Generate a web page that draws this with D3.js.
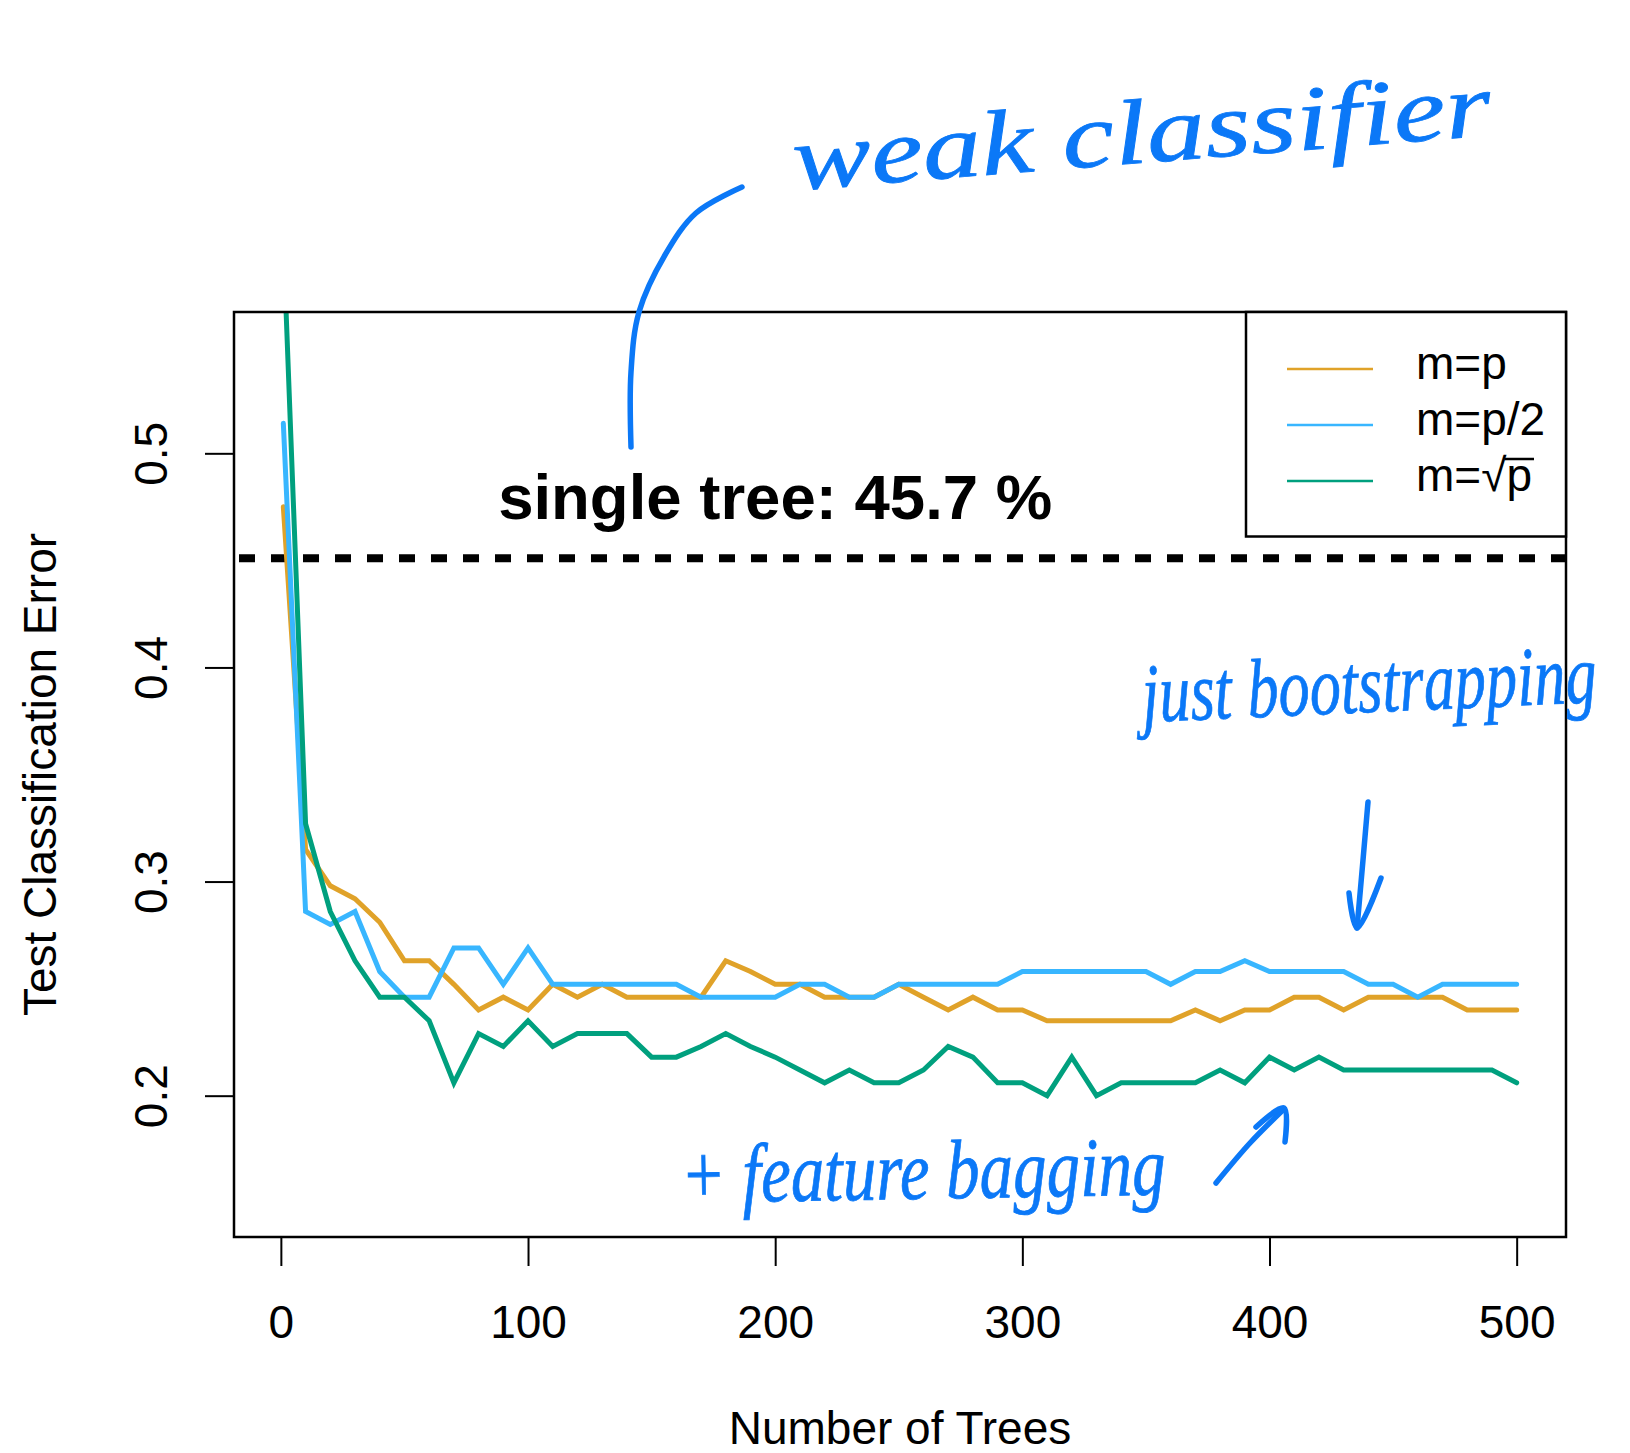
<!DOCTYPE html>
<html>
<head>
<meta charset="utf-8">
<script src="https://cdn.jsdelivr.net/npm/d3@7"></script>
<style>
  body { margin: 0; background: #fff; }
  svg { display: block; }
  text { font-family: "Liberation Sans", Arial, Helvetica, sans-serif; }
</style>
</head>
<body>
<svg id="chart"></svg>
<script>
var width = 1630, height = 1453;

// number of trees (x) and test error of the three forests
var trees = [1, 10, 20, 30, 40, 50, 60, 70, 80, 90, 100, 110, 120, 130, 140, 150, 160, 170, 180, 190,
  200, 210, 220, 230, 240, 250, 260, 270, 280, 290, 300, 310, 320, 330, 340, 350, 360, 370, 380, 390,
  400, 410, 420, 430, 440, 450, 460, 470, 480, 490, 500];

var errMp = [0.475, 0.315, 0.298, 0.292, 0.281, 0.263, 0.263, 0.252, 0.240, 0.246, 0.240, 0.252, 0.246,
  0.252, 0.246, 0.246, 0.246, 0.246, 0.263, 0.258, 0.252, 0.252, 0.246, 0.246, 0.246, 0.252, 0.246,
  0.240, 0.246, 0.240, 0.240, 0.235, 0.235, 0.235, 0.235, 0.235, 0.235, 0.240, 0.235, 0.240, 0.240,
  0.246, 0.246, 0.240, 0.246, 0.246, 0.246, 0.246, 0.240, 0.240, 0.240];

var errHalf = [0.514, 0.286, 0.280, 0.286, 0.258, 0.246, 0.246, 0.269, 0.269, 0.252, 0.269, 0.252, 0.252,
  0.252, 0.252, 0.252, 0.252, 0.246, 0.246, 0.246, 0.246, 0.252, 0.252, 0.246, 0.246, 0.252, 0.252,
  0.252, 0.252, 0.252, 0.258, 0.258, 0.258, 0.258, 0.258, 0.258, 0.252, 0.258, 0.258, 0.263, 0.258,
  0.258, 0.258, 0.258, 0.252, 0.252, 0.246, 0.252, 0.252, 0.252, 0.252];

var errSqrt = [0.600, 0.327, 0.286, 0.263, 0.246, 0.246, 0.235, 0.206, 0.229, 0.223, 0.235, 0.223, 0.229,
  0.229, 0.229, 0.218, 0.218, 0.223, 0.229, 0.223, 0.218, 0.212, 0.206, 0.212, 0.206, 0.206, 0.212,
  0.223, 0.218, 0.206, 0.206, 0.200, 0.218, 0.200, 0.206, 0.206, 0.206, 0.206, 0.212, 0.206, 0.218,
  0.212, 0.218, 0.212, 0.212, 0.212, 0.212, 0.212, 0.212, 0.212, 0.206];

var seriesNames = ["m=p", "m=p/2", "m=\u221Ap"];
var xTicks = [0, 100, 200, 300, 400, 500];
var yTicks = [0.2, 0.3, 0.4, 0.5];
var singleTreeErr = 0.451;
var singleTreeLabel = "single tree: 45.7 %";

var colors = ["#e0a229", "#38b6ff", "#00a07e"];
var ink = "#0b78f7";

var svg = d3.select("#chart")
    .attr("width", width)
    .attr("height", height);

svg.append("rect").attr("width", width).attr("height", height).attr("fill", "#fff");

var plot = {left: 234, right: 1566, top: 312, bottom: 1237};

// R style axis ranges: data range padded by 4%
var x = d3.scaleLinear()
    .domain([1 - 0.04 * 499, 500 + 0.04 * 499])
    .range([plot.left, plot.right]);
var y = d3.scaleLinear()
    .domain([0.15 - 0.016, 0.55 + 0.016])
    .range([plot.bottom, plot.top]);

svg.append("clipPath").attr("id", "plotClip")
  .append("rect")
    .attr("x", plot.left).attr("y", plot.top)
    .attr("width", plot.right - plot.left)
    .attr("height", plot.bottom - plot.top);

// axes
var xAxis = svg.append("g")
    .attr("transform", "translate(0," + plot.bottom + ")")
    .call(d3.axisBottom(x).tickValues(xTicks).tickSize(29).tickFormat(d3.format("d")));
xAxis.select(".domain").remove();
xAxis.selectAll("line").attr("stroke", "#000").attr("stroke-width", 2);
xAxis.selectAll("text").attr("font-size", 46).attr("fill", "#000")
    .attr("dy", null).attr("y", 101);

var yAxis = svg.append("g")
    .attr("transform", "translate(" + plot.left + ",0)")
    .call(d3.axisLeft(y).tickValues(yTicks).tickSize(29).tickFormat(d3.format(".1f")));
yAxis.select(".domain").remove();
yAxis.selectAll("line").attr("stroke", "#000").attr("stroke-width", 2);
yAxis.selectAll("text").remove();
yAxis.selectAll(".tick").append("text")
    .attr("transform", "translate(-67,0) rotate(-90)")
    .attr("text-anchor", "middle")
    .attr("font-size", 46)
    .attr("fill", "#000")
    .text(function(d) { return d3.format(".1f")(d); });

svg.append("text")
    .attr("x", (plot.left + plot.right) / 2)
    .attr("y", 1444)
    .attr("text-anchor", "middle")
    .attr("font-size", 46)
    .text("Number of Trees");

svg.append("text")
    .attr("transform", "translate(56," + ((plot.top + plot.bottom) / 2) + ") rotate(-90)")
    .attr("text-anchor", "middle")
    .attr("font-size", 46)
    .text("Test Classification Error");

// single tree reference
svg.append("line")
    .attr("x1", plot.left).attr("x2", plot.right)
    .attr("y1", y(singleTreeErr)).attr("y2", y(singleTreeErr))
    .attr("stroke", "#000")
    .attr("stroke-width", 8)
    .attr("stroke-dasharray", "16,16")
    .attr("stroke-dashoffset", 27);

svg.append("text")
    .attr("x", x(200))
    .attr("y", y(0.4695))
    .attr("text-anchor", "middle")
    .attr("font-size", 63.5)
    .attr("font-weight", "bold")
    .text(singleTreeLabel);

// error curves
var allSeries = [errMp, errHalf, errSqrt];
var line = d3.line()
    .x(function(d, i) { return x(trees[i]); })
    .y(function(d) { return y(d); });

svg.append("g").attr("clip-path", "url(#plotClip)")
  .selectAll("path")
  .data(allSeries)
  .enter()
  .append("path")
    .attr("d", line)
    .attr("fill", "none")
    .attr("stroke", function(d, i) { return colors[i]; })
    .attr("stroke-width", 5)
    .attr("stroke-linejoin", "miter")
    .attr("stroke-linecap", "round");

// plot box
svg.append("rect")
    .attr("x", plot.left).attr("y", plot.top)
    .attr("width", plot.right - plot.left)
    .attr("height", plot.bottom - plot.top)
    .attr("fill", "none")
    .attr("stroke", "#000")
    .attr("stroke-width", 2.5);

// legend
var legend = svg.append("g");
legend.append("rect")
    .attr("x", 1246).attr("y", plot.top)
    .attr("width", plot.right - 1246).attr("height", 536.5 - plot.top)
    .attr("fill", "#fff")
    .attr("stroke", "#000")
    .attr("stroke-width", 2.5);

var legendRows = legend.selectAll("g.row")
  .data(seriesNames)
  .enter()
  .append("g")
    .attr("class", "row")
    .attr("transform", function(d, i) { return "translate(0," + (369 + i * 56) + ")"; });

legendRows.append("line")
    .attr("x1", 1287).attr("x2", 1373)
    .attr("stroke", function(d, i) { return colors[i]; })
    .attr("stroke-width", 2.5);

var legendText = legendRows.append("text")
    .attr("x", 1416)
    .attr("y", 10)
    .attr("font-size", 46)
    .text(function(d) { return d; });

// overbar of the square root
legendText.filter(function(d, i) { return i == 2; }).each(function() {
  var start = this.getStartPositionOfChar(3).x;
  var end = this.getEndPositionOfChar(3).x;
  d3.select(this.parentNode).append("line")
      .attr("x1", start - 2).attr("x2", end + 2)
      .attr("y1", -22).attr("y2", -22)
      .attr("stroke", "#000").attr("stroke-width", 2.5);
});

// hand written notes
var notes = svg.append("g").attr("fill", ink);

function note(txt, x0, y0, len, size, angle) {
  notes.append("text")
      .attr("transform", "translate(" + x0 + "," + y0 + ") rotate(" + angle + ")")
      .style("font-family", "'Liberation Serif', 'DejaVu Serif', serif")
      .style("font-style", "italic")
      .attr("font-size", size)
      .attr("stroke", ink)
      .attr("stroke-width", 0.8)
      .attr("textLength", len)
      .attr("lengthAdjust", "spacingAndGlyphs")
      .text(txt);
}
note("weak classifier", 795, 190, 700, 92, -4.5);
note("just bootstrapping", 1143, 722, 455, 84, -2.5);
note("+ feature bagging", 681, 1203, 485, 84, -1);

var pen = d3.line().curve(d3.curveCatmullRom);
var strokes = [
  [[631, 447], [631, 372], [639, 312], [665, 255], [696, 213], [742, 187]],
  [[1368, 802], [1363, 860], [1357, 928]],
  [[1349, 893], [1357, 928], [1381, 878]],
  [[1216, 1183], [1250, 1143], [1284, 1109]],
  [[1256, 1127], [1284, 1108], [1285, 1142]]
];
svg.append("g").selectAll("path")
  .data(strokes)
  .enter()
  .append("path")
    .attr("d", pen)
    .attr("fill", "none")
    .attr("stroke", ink)
    .attr("stroke-width", 5.5)
    .attr("stroke-linecap", "round")
    .attr("stroke-linejoin", "round");
</script>
</body>
</html>
